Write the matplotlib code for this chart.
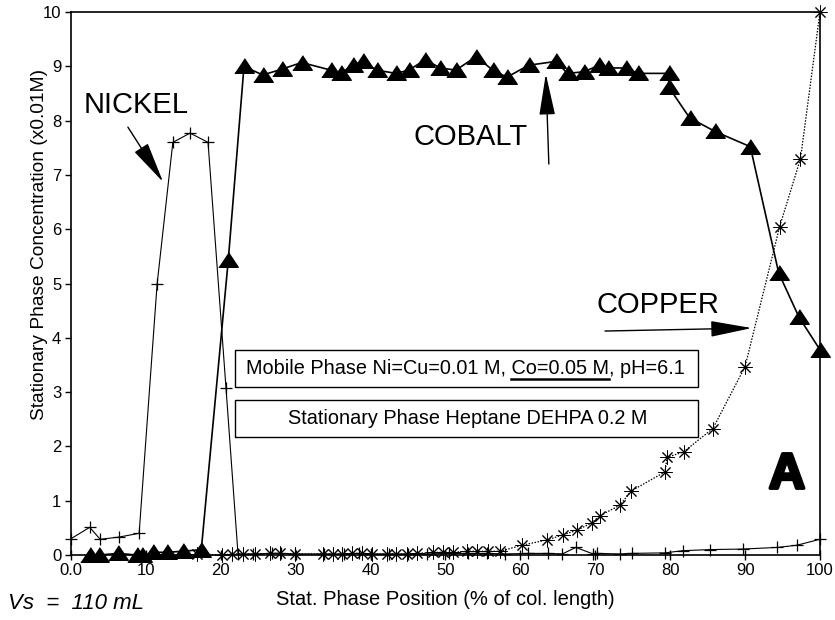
import matplotlib.pyplot as plt
import matplotlib.patheffects as pe
from matplotlib.patches import Rectangle
from matplotlib.lines import Line2D

plt.rcParams['font.family'] = ['Liberation Sans', 'DejaVu Sans']

# values
cobalt_x = [2.5, 3.8, 6.3, 8.8, 9.5, 11.0, 12.8, 15.0, 17.4, 21.0, 23.1, 25.6, 28.2, 30.8,
            34.7, 36.0, 37.6, 39.0, 40.8, 43.4, 45.1, 47.3, 49.3, 51.4, 54.1, 56.3, 58.2,
            61.1, 64.7, 66.3, 68.5, 70.5, 71.7, 74.1, 75.7, 79.8, 79.8, 82.6, 86.0, 90.7,
            94.5, 97.2, 100.0]
cobalt_y = [0.0, 0.0, 0.03, 0.0, 0.0, 0.05, 0.05, 0.07, 0.1, 5.43, 9.0, 8.84, 8.95, 9.07,
            8.93, 8.87, 9.02, 9.09, 8.93, 8.87, 8.93, 9.12, 8.97, 8.93, 9.18, 8.93, 8.8,
            9.02, 9.09, 8.87, 8.9, 9.02, 8.97, 8.97, 8.87, 8.87, 8.62, 8.05, 7.8, 7.52,
            5.19, 4.38, 3.78]

nickel_x = [0.0, 2.5, 3.9, 6.4, 9.1, 11.5, 13.6, 15.9, 18.3, 20.7, 22.3, 24.3, 26.8, 28.0,
            29.9, 33.8, 36.5, 38.5, 40.0, 42.5, 45.0, 47.5, 50.5, 53.0, 55.5, 58.0, 61.0,
            63.7, 65.6, 67.4, 69.7, 70.2, 73.3, 74.9, 79.3, 81.7, 85.3, 89.7, 94.3, 96.9, 100.0]
nickel_y = [0.3, 0.51, 0.29, 0.33, 0.4, 4.99, 7.6, 7.77, 7.6, 3.07, 0.02, 0.02, 0.03, 0.03,
            0.02, 0.02, 0.02, 0.03, 0.02, 0.02, 0.02, 0.02, 0.03, 0.03, 0.03, 0.02, 0.03,
            0.03, 0.02, 0.14, 0.02, 0.03, 0.02, 0.03, 0.04, 0.08, 0.1, 0.11, 0.14, 0.18, 0.29]

copper_x = [16.8, 20.2, 21.5, 23.0, 24.6, 26.6, 27.9, 29.9, 33.6, 35.0, 36.2, 37.5, 38.9,
            40.2, 42.2, 43.4, 44.9, 46.2, 48.3, 49.7, 51.0, 52.9, 54.2, 55.7, 57.3, 60.2,
            63.6, 65.7, 67.6, 69.5, 70.6, 73.3, 74.8, 79.3, 79.6, 81.8, 85.7, 90.0, 94.6,
            97.4, 100.0]
copper_y = [0.02, 0.0, 0.02, 0.02, 0.02, 0.03, 0.03, 0.02, 0.02, 0.02, 0.02, 0.03, 0.03,
            0.02, 0.02, 0.02, 0.02, 0.03, 0.05, 0.05, 0.05, 0.07, 0.07, 0.07, 0.07, 0.18,
            0.28, 0.37, 0.46, 0.59, 0.72, 0.92, 1.18, 1.53, 1.8, 1.9, 2.33, 3.47, 6.04,
            7.3, 10.0]

xticks = [0, 10, 20, 30, 40, 50, 60, 70, 80, 90, 100]
xticklabels = ['0.0', '10', '20', '30', '40', '50', '60', '70', '80', '90', '100']
yticks = [0, 1, 2, 3, 4, 5, 6, 7, 8, 9, 10]

mobile_pre = 'Mobile Phase Ni=Cu=0.01 M, '
mobile_under = 'Co=0.05 M'
mobile_post = ', pH=6.1'
stationary = 'Stationary Phase Heptane DEHPA 0.2 M'
box_fs = 14.3

fig = plt.figure(figsize=(8.35, 6.2), dpi=100)
ax = fig.add_axes([0.085, 0.1048, 0.897, 0.8758])

tri = [(-1, -0.7), (1, -0.7), (0, 0.8)]
ax.plot(copper_x, copper_y, color='black', lw=0.9, ls=(0, (1.2, 1.2)),
        marker=(8, 2, 0), ms=10, mew=0.7, clip_on=False, zorder=3)
ax.plot(nickel_x, nickel_y, color='black', lw=0.8, marker='+', ms=9, mew=0.9,
        clip_on=False, zorder=3)
ax.plot(cobalt_x, cobalt_y, color='black', lw=1.2, marker=tri, ms=14,
        clip_on=False, zorder=4)

ax.set_xlim(0, 100)
ax.set_ylim(0, 10)
ax.set_xticks(xticks)
ax.set_xticklabels(xticklabels)
ax.set_yticks(yticks)
ax.tick_params(axis='x', direction='inout', length=7, width=1, labelsize=12, pad=2)
ax.tick_params(axis='y', direction='out', length=4, width=1, labelsize=12, pad=3)
for s in ax.spines.values():
    s.set_linewidth(1.2)

ax.set_xlabel('Stat. Phase Position (% of col. length)', fontsize=14.5, labelpad=9)
ax.set_ylabel('Stationary Phase Concentration (x0.01M)', fontsize=13.8)
ax.yaxis.set_label_coords(-0.031, 0.572)

# labels and arrows
arrow = dict(arrowstyle='-|>,head_length=1.3,head_width=0.25', color='black',
             lw=1, mutation_scale=20, shrinkA=0, shrinkB=0)
ax.text(0.087, 0.829, 'NICKEL', transform=ax.transAxes, fontsize=21, ha='center', va='center')
ax.annotate('', xy=(0.123, 0.687), xytext=(0.076, 0.788), xycoords='axes fraction',
            arrowprops=arrow)
ax.text(0.534, 0.770, 'COBALT', transform=ax.transAxes, fontsize=21, ha='center', va='center')
ax.annotate('', xy=(0.634, 0.886), xytext=(0.638, 0.720), xycoords='axes fraction',
            arrowprops=arrow)
ax.text(0.784, 0.460, 'COPPER', transform=ax.transAxes, fontsize=21, ha='center', va='center')
ax.annotate('', xy=(0.909, 0.418), xytext=(0.713, 0.4125), xycoords='axes fraction',
            arrowprops=arrow)

ax.text(0.956, 0.147, 'A', transform=ax.transAxes, fontsize=36, fontweight='bold',
        ha='center', va='center',
        path_effects=[pe.withStroke(linewidth=2.5, foreground='black')])

# boxes
ax.add_patch(Rectangle((0.219, 0.309), 0.618, 0.069, transform=ax.transAxes,
                       facecolor='white', edgecolor='black', lw=1, zorder=5))
ax.add_patch(Rectangle((0.219, 0.217), 0.618, 0.068, transform=ax.transAxes,
                       facecolor='white', edgecolor='black', lw=1, zorder=5))
t1 = ax.text(0.526, 0.343, mobile_pre + mobile_under + mobile_post, transform=ax.transAxes,
             fontsize=box_fs, ha='center', va='center', zorder=6)
ax.text(0.529, 0.251, stationary, transform=ax.transAxes,
        fontsize=box_fs, ha='center', va='center', zorder=6)

fig.text(0.0096, 0.027, 'Vs  =  110 mL', style='italic', fontsize=16, ha='left', va='center')

# underline Co=0.05 M
fig.canvas.draw()
r = fig.canvas.get_renderer()


def text_width(s):
    t = fig.text(0, 0, s, fontsize=box_fs)
    w = t.get_window_extent(r).width
    t.remove()
    return w


bb = t1.get_window_extent(r)
x_end = bb.x0 + text_width(mobile_pre + mobile_under)
x_start = x_end - text_width(mobile_under)
inv = fig.transFigure.inverted()
(fx0, fy), (fx1, _) = inv.transform([(x_start, bb.y0 - 1), (x_end, bb.y0 - 1)])
fig.add_artist(Line2D([fx0, fx1], [fy, fy], color='black', lw=1.8, zorder=7))

fig.savefig('out.png', dpi=100)
